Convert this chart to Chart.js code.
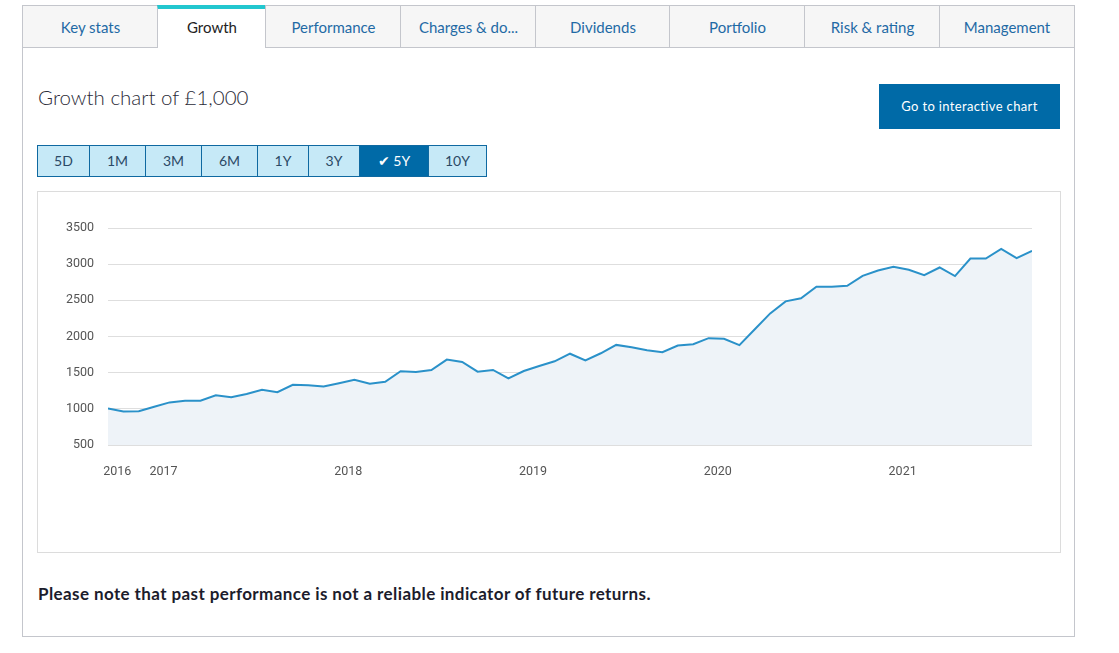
<!DOCTYPE html>
<html lang="en">
<head>
<meta charset="UTF-8">
<title>Growth chart</title>
<script src="https://cdn.jsdelivr.net/npm/chart.js@4.4.1/dist/chart.umd.min.js"></script>
<style>
    body{margin:0; background:#fff; font-family:Lato, "Open Sans", sans-serif; width:1119px; height:653px; position:relative; overflow:hidden;}
    .tab{position:absolute; top:5px; background:#f6f6f6; border:1px solid #c4c6cc; border-right:none; box-sizing:border-box; height:43px;
         color:#1f6aa5; font-size:15px; text-align:center; line-height:42px;}
    .tab.last{border-right:1px solid #c4c6cc;}
    .tab.active{background:#fff; color:#222; border-bottom:none; border-top:4px solid #22c7cf; line-height:36px;}
    #panel{position:absolute; left:22px; top:47px; width:1053px; height:590px; border:1px solid #c4c6cc; border-top:none; box-sizing:border-box;}
    #title{position:absolute; left:38px; top:85px; font-size:20.5px; color:#2b2b38; font-weight:300;}
    #goBtn{position:absolute; left:879px; top:84px; width:181px; height:45px; background:#006aa7; color:#fff; font-size:13px; letter-spacing:0.35px; text-align:center; line-height:45px;}
    #ranges{position:absolute; left:37px; top:145px; height:32px; display:flex;}
    .rng{height:32px; box-sizing:border-box; border:1px solid #0f69a1; border-left:none; background:#c6e9f7; color:#2c4a66; font-size:14px; text-align:center; line-height:30px;}
    .rng.first{border-left:1px solid #0f69a1;}
    .rng.on{background:#006aa7; color:#fff;}
    #chartBox{position:absolute; left:37px; top:191px; width:1024px; height:362px; border:1px solid #dcdcdc; box-sizing:border-box;}
    #chartBox canvas{position:absolute; left:0; top:0;}
    #note{position:absolute; left:38px; top:583px; font-size:17px; letter-spacing:0.4px; font-weight:700; color:#1c1c2c;}
</style>
</head>
<body>
<div id="tabs"></div>
<div id="panel"></div>
<div id="title">Growth chart of £1,000</div>
<div id="goBtn">Go to interactive chart</div>
<div id="ranges"></div>
<div id="chartBox"><canvas id="growthChart" width="1022" height="360"></canvas></div>
<div id="note">Please note that past performance is not a reliable indicator of future returns.</div>

<script>
// page text
const tabNames = ['Key stats','Growth','Performance','Charges & do...','Dividends','Portfolio','Risk & rating','Management'];
const rangeNames = ['5D','1M','3M','6M','1Y','3Y','5Y','10Y'];

// monthly values of £1,000, Sep 2016 .. Sep 2021
const startYear = 2016;
const startMonth = 9;
const growth = [1005,963,967,1028,1089,1112,1112,1187,1159,1205,1262,1229,1332,1327,1308,1355,
                1403,1347,1375,1519,1509,1537,1681,1648,1514,1537,1421,1523,1593,1657,1762,
                1671,1768,1884,1852,1810,1782,1875,1894,1977,1968,1880,2100,2319,2486,2528,
                2688,2688,2702,2839,2913,2963,2922,2849,2954,2835,3078,3078,3211,3083,3184];

// x axis ticks (decimal year) and their labels
const tickValues = [2016.75, 2017, 2018, 2019, 2020, 2021];
const tickLabels = ['2016','2017','2018','2019','2020','2021'];
const yTicks = [500,1000,1500,2000,2500,3000,3500];

// tabs
const tabLefts = [22,157,265,400,535,669,804,939,1075];
const tabsEl = document.getElementById('tabs');
tabNames.forEach(function(name, i){
    const d = document.createElement('div');
    d.className = 'tab' + (i === 1 ? ' active' : '') + (i === tabNames.length - 1 ? ' last' : '');
    d.style.left = tabLefts[i] + 'px';
    d.style.width = (tabLefts[i+1] - tabLefts[i] + (i === tabNames.length - 1 ? 0 : 1)) + 'px';
    d.textContent = name;
    tabsEl.appendChild(d);
});

// range buttons
const rangeWidths = [53,56,56,56,51,51,69,58];
const rangesEl = document.getElementById('ranges');
rangeNames.forEach(function(name, i){
    const b = document.createElement('div');
    b.className = 'rng' + (i === 0 ? ' first' : '') + (name === '5Y' ? ' on' : '');
    b.style.width = rangeWidths[i] + 'px';
    b.textContent = (name === '5Y' ? '\u2714 ' : '') + name;
    rangesEl.appendChild(b);
});

// build points
const points = growth.map(function(v, i){
    const m = startMonth - 1 + i;
    return {x: startYear + m / 12 + 0.4 / 12, y: v};
});

const ctx = document.getElementById('growthChart').getContext('2d');
new Chart(ctx, {
    type: 'line',
    data: {
        datasets: [{
            data: points,
            borderColor: '#2a91c9',
            borderWidth: 2,
            backgroundColor: '#eef3f8',
            fill: 'start',
            pointRadius: 0,
            tension: 0
        }]
    },
    options: {
        responsive: false,
        animation: false,
        layout: {padding: {top: 36, right: 28, left: 0, bottom: 0}},
        plugins: {legend: {display: false}, tooltip: {enabled: false}},
        scales: {
            x: {
                type: 'linear',
                min: points[0].x,
                max: points[points.length - 1].x,
                grid: {display: false},
                border: {display: false},
                afterBuildTicks: function(axis){
                    axis.ticks = tickValues.map(function(v){ return {value: v}; });
                },
                afterFit: function(axis){ axis.height = 107; },
                ticks: {
                    autoSkip: false,
                    maxRotation: 0,
                    padding: 11,
                    color: '#555',
                    font: {family: 'Roboto', size: 12.5},
                    callback: function(value){
                        const i = tickValues.indexOf(value);
                        return i >= 0 ? tickLabels[i] : '';
                    }
                }
            },
            y: {
                min: 500,
                max: 3500,
                afterBuildTicks: function(axis){
                    axis.ticks = yTicks.map(function(v){ return {value: v}; });
                },
                afterFit: function(axis){ axis.width = 70; },
                grid: {color: '#dedede', drawTicks: false, lineWidth: 1},
                border: {display: false},
                ticks: {
                    padding: 14,
                    color: '#555',
                    font: {family: 'Roboto', size: 12.5},
                    callback: function(value){ return String(value); }
                }
            }
        }
    }
});
</script>
</body>
</html>
